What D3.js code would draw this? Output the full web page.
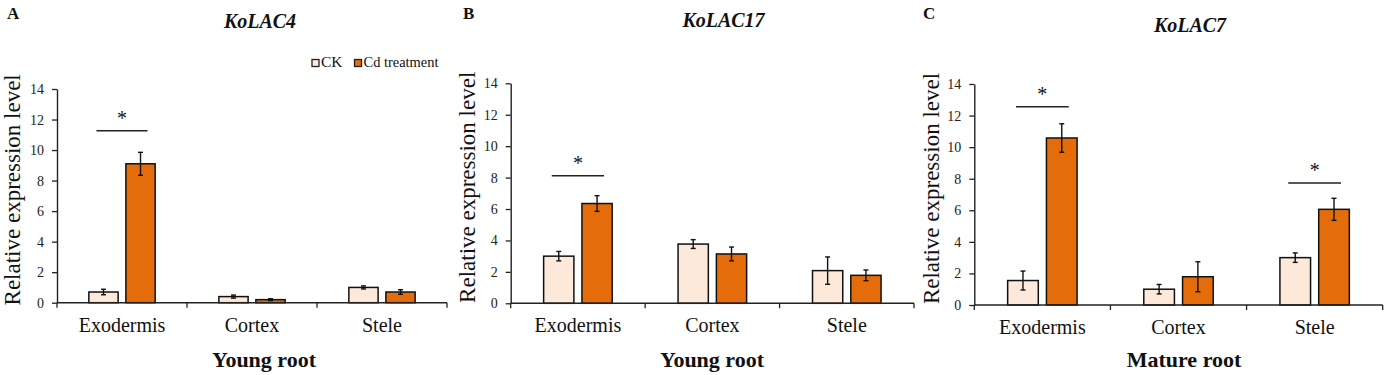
<!DOCTYPE html>
<html>
<head>
<meta charset="utf-8">
<script src="https://cdn.jsdelivr.net/npm/d3@7"></script>
<style>
  body { margin: 0; background: #fff; }
  svg { display: block; }
</style>
</head>
<body>
<svg id="chart" width="1387" height="375"></svg>
<script>
// ---------- data ----------
const categories = ["Exodermis", "Cortex", "Stele"];
const seriesNames = ["CK", "Cd treatment"];
const yTicks = [0, 2, 4, 6, 8, 10, 12, 14];
const panelLetters = ["A", "B", "C"];
const geneTitles = ["KoLAC4", "KoLAC17", "KoLAC7"];
const groupLabels = ["Young root", "Young root", "Mature root"];

const ckA = [0.7, 0.4, 1.0];
const ckErrA = [0.18, 0.1, 0.1];
const cdA = [9.1, 0.2, 0.7];
const cdErrA = [0.75, 0.06, 0.15];

const ckB = [3.0, 3.77, 2.08];
const ckErrB = [0.3, 0.28, 0.87];
const cdB = [6.35, 3.14, 1.78];
const cdErrB = [0.5, 0.44, 0.34];

const ckC = [1.55, 1.0, 3.0];
const ckErrC = [0.6, 0.3, 0.3];
const cdC = [10.58, 1.79, 6.06];
const cdErrC = [0.9, 0.95, 0.7];

// significance markers: [category, line height in data units]
const sigA = [["Exodermis", 11.27]];
const sigB = [["Exodermis", 8.12]];
const sigC = [["Exodermis", 12.56], ["Stele", 7.73]];

// ---------- layout ----------
const FONT = '"Liberation Serif", "Times New Roman", Times, serif';
const colors = { "CK": "#fde9d9", "Cd treatment": "#e46c0a" };
const panels = [
  { x0: 57,    x1: 447,    y0: 302.7, y1: 89,   ylabX: 20,  letterX: 7,   titleY: 28, titleX: 260,
    groupX: 264, ck: ckA, ckErr: ckErrA, cd: cdA, cdErr: cdErrA, sig: sigA },
  { x0: 510.7, x1: 914,    y0: 303.3, y1: 83.3, ylabX: 475, letterX: 463, titleY: 27, titleX: 723.5,
    groupX: 712, ck: ckB, ckErr: ckErrB, cd: cdB, cdErr: cdErrB, sig: sigB },
  { x0: 974.3, x1: 1382.7, y0: 305,   y1: 84,   ylabX: 939, letterX: 923, titleY: 32, titleX: 1190,
    groupX: 1184, ck: ckC, ckErr: ckErrC, cd: cdC, cdErr: cdErrC, sig: sigC }
];

const svg = d3.select("#chart").attr("font-family", FONT);

panels.forEach((p, i) => {
  const g = svg.append("g").attr("font-family", FONT);
  const x = d3.scaleBand().domain(categories).range([p.x0, p.x1]).paddingInner(0).paddingOuter(0);
  const xs = d3.scaleBand().domain(seriesNames).range([0, x.bandwidth()]).paddingInner(0.21).paddingOuter(0.86);
  const y = d3.scaleLinear().domain([0, 14]).range([p.y0, p.y1]);

  // bars
  const rows = [];
  categories.forEach((c, k) => {
    rows.push({ cat: c, s: "CK", v: p.ck[k], e: p.ckErr[k] });
    rows.push({ cat: c, s: "Cd treatment", v: p.cd[k], e: p.cdErr[k] });
  });
  g.selectAll("rect.bar").data(rows).join("rect")
    .attr("class", "bar")
    .attr("x", d => x(d.cat) + xs(d.s))
    .attr("width", xs.bandwidth())
    .attr("y", d => y(d.v))
    .attr("height", d => y(0) - y(d.v))
    .attr("fill", d => colors[d.s])
    .attr("stroke", "#111")
    .attr("stroke-width", 1.5);

  // error bars
  const cx = d => x(d.cat) + xs(d.s) + xs.bandwidth() / 2;
  const eb = g.selectAll("g.err").data(rows).join("g").attr("class", "err")
    .attr("stroke", "#111").attr("stroke-width", 1.4);
  eb.append("line").attr("x1", cx).attr("x2", cx)
    .attr("y1", d => y(d.v + d.e)).attr("y2", d => y(Math.max(0, d.v - d.e)));
  eb.append("line").attr("x1", d => cx(d) - 2.5).attr("x2", d => cx(d) + 2.5)
    .attr("y1", d => y(d.v + d.e)).attr("y2", d => y(d.v + d.e));
  eb.append("line").attr("x1", d => cx(d) - 2.5).attr("x2", d => cx(d) + 2.5)
    .attr("y1", d => y(Math.max(0, d.v - d.e))).attr("y2", d => y(Math.max(0, d.v - d.e)));

  // y axis
  const ya = g.append("g").attr("transform", `translate(${p.x0},0)`)
    .call(d3.axisLeft(y).tickValues(yTicks).tickSize(5).tickSizeOuter(0).tickPadding(8));
  ya.attr("font-family", FONT).attr("font-size", 14);
  ya.select(".domain").attr("stroke", "#222").attr("stroke-width", 1.4);
  ya.selectAll(".tick line").attr("stroke", "#222").attr("stroke-width", 1.3);
  ya.selectAll(".tick text").attr("font-size", 14).attr("font-family", FONT).attr("fill", "#222");

  // x axis line + boundary ticks
  g.append("line").attr("x1", p.x0).attr("x2", p.x1).attr("y1", y(0)).attr("y2", y(0))
    .attr("stroke", "#222").attr("stroke-width", 1.5);
  const bounds = categories.map(c => x(c)).concat([x(categories[categories.length - 1]) + x.bandwidth()]);
  g.selectAll("line.xt").data(bounds).join("line").attr("class", "xt")
    .attr("x1", d => d).attr("x2", d => d).attr("y1", y(0)).attr("y2", y(0) + 5)
    .attr("stroke", "#222").attr("stroke-width", 1.3);

  // category labels
  g.selectAll("text.cat").data(categories).join("text").attr("class", "cat")
    .attr("x", d => x(d) + x.bandwidth() / 2).attr("y", y(0) + 29)
    .attr("text-anchor", "middle").attr("font-size", 20).attr("font-family", FONT)
    .attr("fill", "#111").text(d => d);

  // significance
  p.sig.forEach(([cat, h]) => {
    const xa = x(cat) + xs("CK") + xs.bandwidth() / 2 - 7;
    const xb = x(cat) + xs("Cd treatment") + xs.bandwidth() / 2 + 7;
    g.append("line").attr("x1", xa).attr("x2", xb).attr("y1", y(h)).attr("y2", y(h))
      .attr("stroke", "#222").attr("stroke-width", 1.5);
    g.append("text").attr("x", (xa + xb) / 2).attr("y", y(h) - 6)
      .attr("text-anchor", "middle").attr("font-size", 20).attr("font-family", FONT)
      .attr("fill", "#111").text("*");
  });

  // y label
  g.append("text").attr("transform", `translate(${p.ylabX},${(p.y0 + p.y1) / 2 - 6}) rotate(-90)`)
    .attr("text-anchor", "middle").attr("font-size", 23).attr("font-family", FONT)
    .attr("fill", "#111").text("Relative expression level");

  // panel letter
  g.append("text").attr("x", p.letterX).attr("y", 19).attr("font-size", 17).attr("font-weight", "bold")
    .attr("font-family", FONT).attr("fill", "#111").text(panelLetters[i]);

  // gene title
  g.append("text").attr("x", p.titleX).attr("y", p.titleY).attr("text-anchor", "middle")
    .attr("font-size", 20).attr("font-weight", "bold").attr("font-style", "italic")
    .attr("font-family", FONT).attr("fill", "#111").text(geneTitles[i]);

  // group label
  g.append("text").attr("x", p.groupX).attr("y", 367).attr("text-anchor", "middle")
    .attr("font-size", 22).attr("font-weight", "bold").attr("font-family", FONT)
    .attr("fill", "#111").text(groupLabels[i]);
});

// legend (panel A)
const legend = svg.append("g").attr("font-family", FONT);
const legendX = [312, 354.5];
seriesNames.forEach((s, k) => {
  legend.append("rect").attr("x", legendX[k]).attr("y", 59.5).attr("width", 7).attr("height", 7)
    .attr("fill", colors[s]).attr("stroke", "#222").attr("stroke-width", 1.3);
  legend.append("text").attr("x", legendX[k] + 9).attr("y", 67).attr("font-size", 15)
    .attr("font-family", FONT).attr("fill", "#111")
    .attr("textLength", k === 0 ? 21.5 : 75).attr("lengthAdjust", "spacingAndGlyphs").text(s);
});
</script>
</body>
</html>
